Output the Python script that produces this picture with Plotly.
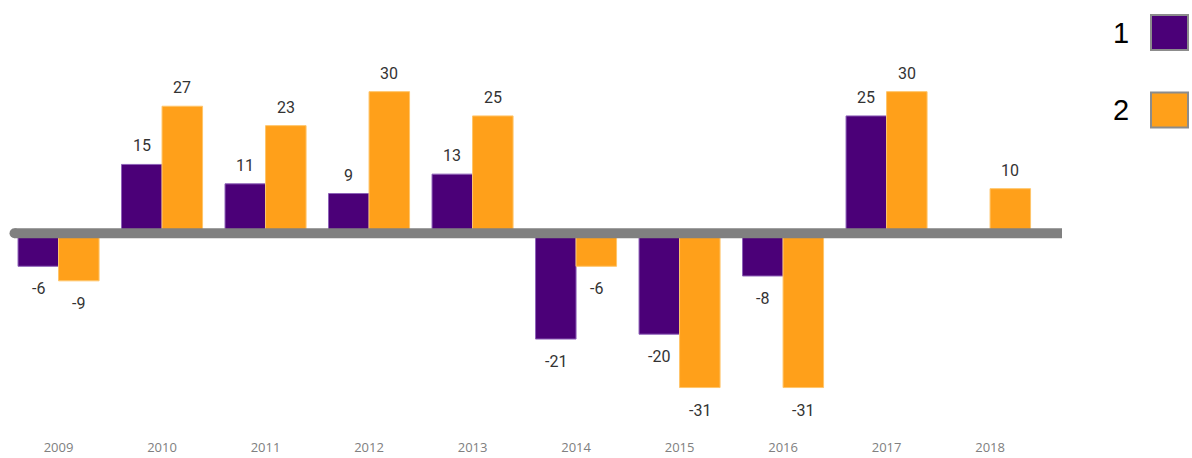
import plotly.graph_objects as go

# ---- data -------------------------------------------------------------
years = ["2009", "2010", "2011", "2012", "2013", "2014", "2015", "2016", "2017", "2018"]
series_names = ["1", "2"]
values_1 = [-6, 15, 11, 9, 13, -21, -20, -8, 25, None]
values_2 = [-9, 27, 23, 30, 25, -6, -31, -31, 30, 10]
series_colors = ["#4b0078", "#ffa01a"]
edge_colors = ["#8e62b8", "#ffc56a"]

# ---- geometry ---------------------------------------------------------
W, H = 1192, 458
MARGIN_B = 20
PLOT_H = H - MARGIN_B
X_DOMAIN = (0.0057, 0.8740)
Y_RANGE = (-41.4, 48.9)
BARGAP = 0.217


def px_x(p):
    """Horizontal pixel -> paper fraction (margins are zero left/right)."""
    return p / W


def px_y(p):
    """Vertical pixel from the top -> paper fraction of the plot area."""
    return (PLOT_H - p) / PLOT_H


fig = go.Figure()

all_values = [values_1, values_2]
for name, vals, col, edge in zip(series_names, all_values, series_colors, edge_colors):
    fig.add_bar(
        x=years,
        y=vals,
        name=name,
        marker=dict(color=col, line=dict(color=edge, width=1)),
        hoverinfo="x+y+name",
    )

# value labels centred over each bar of the group
# (category axes take the category index as an annotation position)
cat_px = (X_DOMAIN[1] - X_DOMAIN[0]) * W / len(years)
bar_px = cat_px * (1 - BARGAP) / 2
for i, vals in enumerate(all_values):
    shift = (i - 0.5) * bar_px
    for j, v in enumerate(vals):
        if v is None:
            continue
        fig.add_annotation(
            x=j, y=v, xref="x", yref="y",
            text=str(v), showarrow=False,
            xshift=shift, yshift=18.5 if v >= 0 else -22.5,
            xanchor="center", yanchor="middle",
            font=dict(family="Roboto", size=16, color="#333333"),
        )

# thick grey baseline sitting on zero
BASE_GREY = "#808080"
fig.add_shape(
    type="rect", xref="paper", yref="y",
    x0=px_x(14.5), x1=px_x(1062),
    ysizemode="pixel", yanchor=0, y0=-1, y1=9,
    fillcolor=BASE_GREY, line=dict(width=0), layer="above",
)
fig.add_shape(
    type="circle", xref="paper", yref="y",
    x0=px_x(9.5), x1=px_x(19.5),
    ysizemode="pixel", yanchor=0, y0=-1, y1=9,
    fillcolor=BASE_GREY, line=dict(width=0), layer="above",
)

# legend: large labels with swatches
legend_rows = [(15, 50), (92.5, 127.5)]
for name, col, (top, bottom) in zip(series_names, series_colors, legend_rows):
    fig.add_shape(
        type="rect", xref="paper", yref="paper",
        x0=px_x(1151), x1=px_x(1188), y0=px_y(bottom), y1=px_y(top),
        fillcolor=col, line=dict(color="#8c8c8c", width=2), layer="above",
    )
    fig.add_annotation(
        xref="paper", yref="paper",
        x=px_x(1131), y=px_y((top + bottom) / 2),
        text=name, showarrow=False,
        xanchor="right", yanchor="middle",
        font=dict(family="Liberation Sans", size=29, color="#000000"),
    )

fig.update_layout(
    width=W, height=H,
    margin=dict(l=0, r=0, t=0, b=MARGIN_B),
    barmode="group",
    bargap=BARGAP,
    bargroupgap=0,
    showlegend=False,
    plot_bgcolor="white",
    paper_bgcolor="white",
    xaxis=dict(
        type="category",
        categoryorder="array", categoryarray=years,
        range=[-0.5, len(years) - 0.5],
        domain=list(X_DOMAIN),
        showgrid=False, zeroline=False, showline=False, ticks="",
        tickfont=dict(family="Open Sans", size=13, color="#808080"),
        fixedrange=True,
    ),
    yaxis=dict(
        range=list(Y_RANGE),
        visible=False, showgrid=False, zeroline=False,
        fixedrange=True,
    ),
)

fig.write_html("out.html", config={"displayModeBar": False})
